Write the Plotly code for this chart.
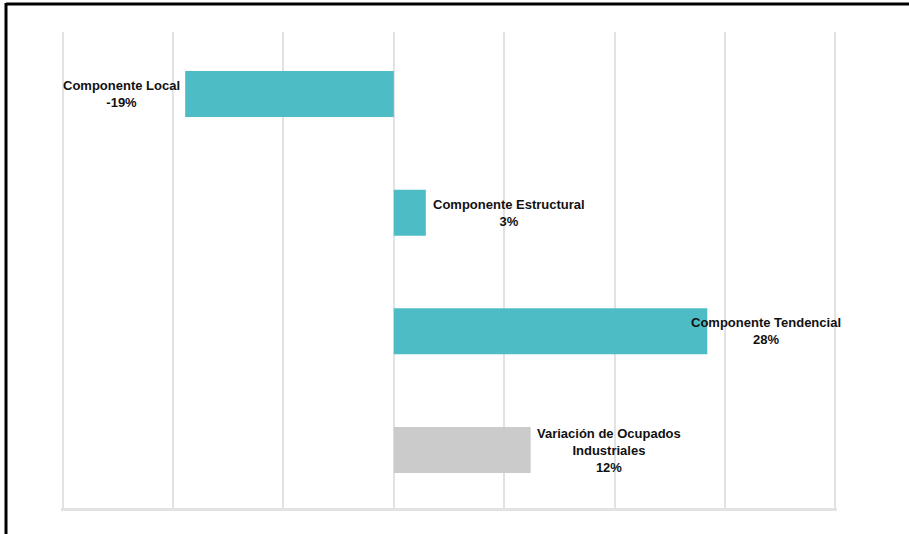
import plotly.graph_objects as go

categories = ["Componente Local", "Componente Estructural", "Componente Tendencial",
              "Variación de Ocupados Industriales"]
values = [-18.9, 2.9, 28.4, 12.4]
label_texts = ["Componente Local<br>-19%", "Componente Estructural<br>3%",
               "Componente Tendencial<br>28%", "Variación de Ocupados<br>Industriales<br>12%"]
bar_colors = ["#4DBCC4", "#4DBCC4", "#4DBCC4", "#CBCBCB"]

W, H = 909, 534
L, R, T, B = 61, 72, 32, 26
pw, ph = W - L - R, H - T - B

def px_x(p):
    return (p - L) / pw

def px_y(p):
    return (H - B - p) / ph

fig = go.Figure()
fig.add_trace(go.Bar(
    y=categories, x=values, orientation="h",
    marker=dict(color=bar_colors, line=dict(width=0)),
    hoverinfo="skip", showlegend=False,
))

anchors = ["right", "left", "left", "left"]
shifts = [-3, 5, -18, 4]
for cat, val, txt, anc, sh in zip(categories, values, label_texts, anchors, shifts):
    fig.add_annotation(
        x=val, y=cat, xref="x", yref="y", text=txt, showarrow=False,
        xanchor=anc, yanchor="middle", xshift=sh, align="center",
        font=dict(family="Liberation Sans, Arial, sans-serif", size=13,
                  color="#111111", weight="bold"),
    )

# outer frame (top and left edges)
fig.add_shape(type="line", xref="paper", yref="paper",
              x0=px_x(6), x1=px_x(W + 5), y0=px_y(4), y1=px_y(4),
              line=dict(color="#000000", width=3))
fig.add_shape(type="line", xref="paper", yref="paper",
              x0=px_x(6), x1=px_x(6), y0=px_y(3), y1=px_y(H + 5),
              line=dict(color="#000000", width=3))

fig.update_layout(
    width=W, height=H,
    margin=dict(l=L, r=R, t=T, b=B, autoexpand=False),
    paper_bgcolor="white", plot_bgcolor="white",
    bargap=0.6125,
    xaxis=dict(range=[-30.15, 40.15], dtick=10, tick0=0, showticklabels=False,
               showgrid=True, gridcolor="#E2E2E2", gridwidth=2, zeroline=False,
               showline=True, linecolor="#E2E2E2", linewidth=3, ticks=""),
    yaxis=dict(range=[3.488, -0.522], showticklabels=False, showgrid=False,
               zeroline=False, showline=False, ticks=""),
)

fig.write_html("out.html", config={"displayModeBar": False},
               post_script="document.body.style.margin='0';")
